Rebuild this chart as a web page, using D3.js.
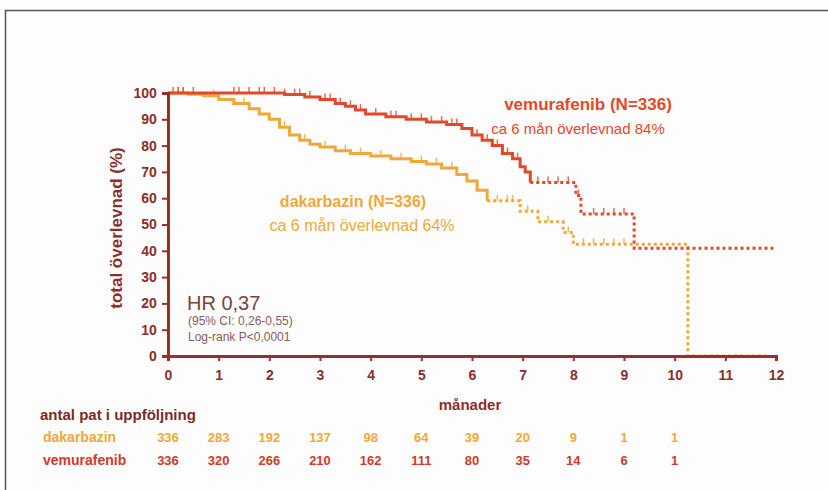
<!DOCTYPE html>
<html>
<head>
<meta charset="utf-8">
<script src="https://cdn.jsdelivr.net/npm/d3@7"></script>
<style>
  body { margin: 0; background: #fdfdfd; }
  svg { display: block; font-family: "Liberation Sans", Arial, sans-serif; }
</style>
</head>
<body>
<div id="chart"></div>
<script>
// months, survival (%) step points
var vemurafenib = [[0,100],[2.3,99.4],[2.7,98.5],[3.0,97.5],[3.3,96],[3.5,95],[3.7,93.5],[3.9,92],
    [4.3,91],[4.7,90],[5.1,89],[5.5,88],[5.8,86.5],[6.0,84],[6.2,82],[6.4,80],[6.6,77],[6.8,75],
    [6.95,72],[7.05,70],[7.15,66],[8.05,61],[8.15,54],[9.2,41],[12,41]];
var dakarbazin = [[0,100],[0.4,99.5],[0.7,99],[1.0,97.5],[1.3,96],[1.6,94],[1.8,92],[2.0,90],
    [2.2,87],[2.4,84],[2.6,82],[2.8,80.5],[3.0,79.5],[3.3,78],[3.6,77],[4.0,76],[4.4,75],[4.8,74],
    [5.1,73],[5.4,71.5],[5.7,69],[5.9,66.5],[6.1,63],[6.3,59],[6.95,55],[7.3,51],[7.8,47],
    [8.0,42.5],[10.26,0],[11.8,0]];
// censoring marks (months)
var vemCensor = [0.1,0.2,0.3,0.5,1.3,1.4,1.6,1.8,1.9,2.1,2.3,2.5,2.6,2.8,3.1,3.2,3.4,3.6,3.8,
    4.1,4.4,4.5,4.8,5.0,5.2,5.4,5.6,5.7,6.1,6.3,6.5,6.7,6.9,7.3,7.5,7.7,7.9,8.1,8.4,8.6,8.8,9.0];
var dakCensor = [0.2,0.3,0.9,1.5,2.3,2.7,3.1,3.5,3.8,4.2,4.6,5.0,5.3,5.6,6.5,6.7,6.8,7.1,7.5,
    7.9,8.2,8.4,8.6,8.8,9.0];
var dashedFrom = { vem: 7.15, dak: 6.3 };

var xTicks = [0,1,2,3,4,5,6,7,8,9,10,11,12];
var yTicks = [0,10,20,30,40,50,60,70,80,90,100];
var riskMonths = [0,1,2,3,4,5,6,7,8,9,10];
var riskDak = [336,283,192,137,98,64,39,20,9,1,1];
var riskVem = [336,320,266,210,162,111,80,35,14,6,1];

var W = 828, H = 490;
var axisCol = '#a32a2a', textCol = '#8c2e2e';
var vemCol = '#e2492c', dakCol = '#f0a83a';

var svg = d3.select('#chart').append('svg').attr('width', W).attr('height', H);
svg.append('rect').attr('x', 5.5).attr('y', 10.5).attr('width', W + 10).attr('height', H + 10)
    .attr('fill', '#fdfdfd').attr('stroke', '#555').attr('stroke-width', 1.5);

var x = d3.scaleLinear().domain([0, 12]).range([168, 776]);
var y = d3.scaleLinear().domain([0, 100]).range([356, 93]);

function stepAt(data, t) {
    var v = data[0][1];
    data.forEach(function(p) { if (p[0] <= t) v = p[1]; });
    return v;
}

var line = d3.line().x(function(d) { return x(d[0]); }).y(function(d) { return y(d[1]); })
    .curve(d3.curveStepAfter);

function drawCurve(data, censor, col, from) {
    var solid = data.filter(function(d) { return d[0] <= from; });
    var rest = data.filter(function(d) { return d[0] >= from; });
    svg.append('path').attr('d', line(solid)).attr('fill', 'none')
        .attr('stroke', col).attr('stroke-width', 3);
    svg.append('path').attr('d', line(rest)).attr('fill', 'none')
        .attr('stroke', col).attr('stroke-width', 3).attr('stroke-dasharray', '3,3');
    svg.append('g').selectAll('line').data(censor).enter().append('line')
        .attr('x1', function(d) { return x(d); }).attr('x2', function(d) { return x(d); })
        .attr('y1', function(d) { return y(stepAt(data, d)) - 6; })
        .attr('y2', function(d) { return y(stepAt(data, d)); })
        .attr('stroke', col).attr('stroke-width', 1.5).attr('opacity', 0.8);
}

drawCurve(dakarbazin, dakCensor, dakCol, dashedFrom.dak);
drawCurve(vemurafenib, vemCensor, vemCol, dashedFrom.vem);

// axes
var xAxis = d3.axisBottom(x).tickValues(xTicks).tickSize(5).tickFormat(d3.format('d'));
var yAxis = d3.axisLeft(y).tickValues(yTicks).tickSize(6);
var gx = svg.append('g').attr('transform', 'translate(0,' + y(0) + ')').call(xAxis);
var gy = svg.append('g').attr('transform', 'translate(' + x(0) + ',0)').call(yAxis);
[gx, gy].forEach(function(g) {
    g.select('.domain').attr('stroke', axisCol).attr('stroke-width', 3);
    g.selectAll('.tick line').attr('stroke', axisCol).attr('stroke-width', 2);
    g.selectAll('.tick text').attr('fill', textCol).attr('font-size', 14)
        .attr('font-weight', 'bold');
});
gx.selectAll('.tick text').attr('dy', '1.15em');
gy.selectAll('.tick text').attr('dx', '-0.15em');

svg.append('text').attr('transform', 'translate(122,228) rotate(-90)')
    .attr('text-anchor', 'middle').attr('fill', textCol).attr('font-weight', 'bold')
    .attr('font-size', 17).text('total överlevnad (%)');
svg.append('text').attr('x', 470).attr('y', 410).attr('text-anchor', 'middle')
    .attr('fill', textCol).attr('font-weight', 'bold').attr('font-size', 15).text('månader');

// annotations
svg.append('text').attr('x', 588).attr('y', 110).attr('text-anchor', 'middle')
    .attr('fill', vemCol).attr('font-weight', 'bold').attr('font-size', 17).text('vemurafenib (N=336)');
svg.append('text').attr('x', 578).attr('y', 134).attr('text-anchor', 'middle')
    .attr('fill', vemCol).attr('font-size', 15).text('ca 6 mån överlevnad 84%');
svg.append('text').attr('x', 353).attr('y', 207).attr('text-anchor', 'middle')
    .attr('fill', dakCol).attr('font-weight', 'bold').attr('font-size', 16).text('dakarbazin (N=336)');
svg.append('text').attr('x', 362).attr('y', 231).attr('text-anchor', 'middle')
    .attr('fill', dakCol).attr('font-size', 16).text('ca 6 mån överlevnad 64%');

svg.append('text').attr('x', 187).attr('y', 310).attr('fill', '#7a4444').attr('font-size', 20)
    .text('HR 0,37');
svg.append('text').attr('x', 188).attr('y', 325).attr('fill', '#8a5a5a').attr('font-size', 12)
    .text('(95% CI: 0,26-0,55)');
svg.append('text').attr('x', 188).attr('y', 341).attr('fill', '#8a5a5a').attr('font-size', 12)
    .text('Log-rank P<0,0001');

// risk table
svg.append('text').attr('x', 40).attr('y', 420).attr('fill', '#7a2a2a').attr('font-weight', 'bold')
    .attr('font-size', 15).text('antal pat i uppföljning');
function riskRow(label, vals, col, yy) {
    svg.append('text').attr('x', 43).attr('y', yy).attr('fill', col).attr('font-weight', 'bold')
        .attr('font-size', 14).text(label);
    svg.append('g').selectAll('text').data(vals).enter().append('text')
        .attr('x', function(d, i) { return x(riskMonths[i]); }).attr('y', yy)
        .attr('text-anchor', 'middle').attr('fill', col).attr('font-weight', 'bold')
        .attr('font-size', 13).text(function(d) { return d; });
}
riskRow('dakarbazin', riskDak, dakCol, 442);
riskRow('vemurafenib', riskVem, '#d23a2a', 465);
</script>
</body>
</html>
